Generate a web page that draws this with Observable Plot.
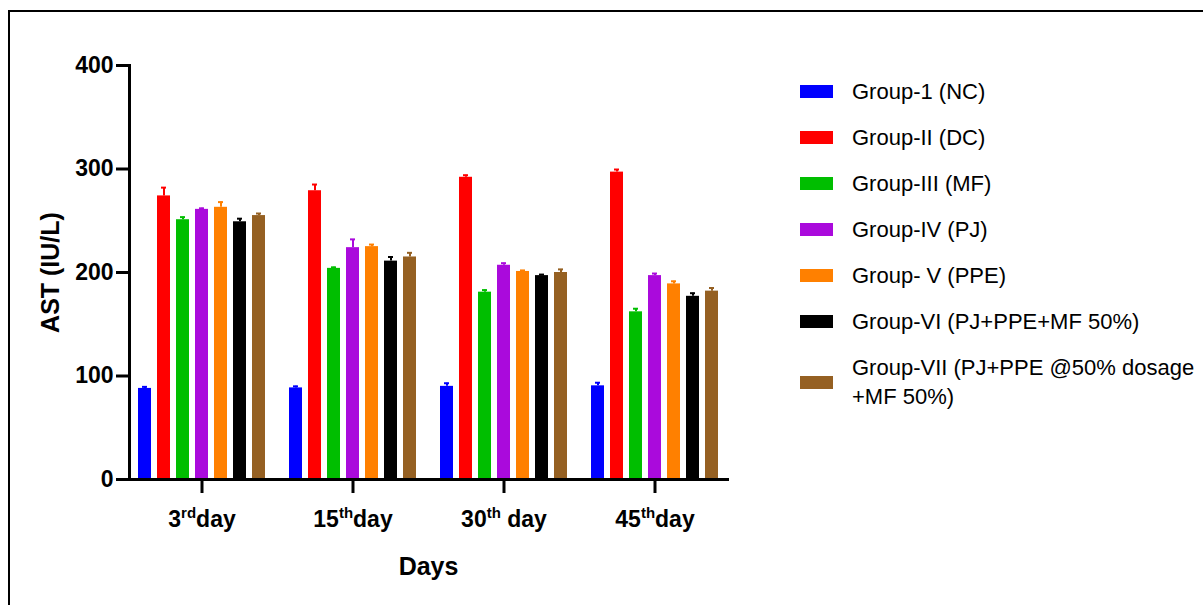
<!DOCTYPE html>
<html>
<head>
<meta charset="utf-8">
<script src="https://cdn.jsdelivr.net/npm/d3@7"></script>
<script src="https://cdn.jsdelivr.net/npm/@observablehq/plot@0.6"></script>
<style>
  html, body { margin: 0; padding: 0; background: #fff; }
  #wrap { position: relative; width: 1203px; height: 605px; overflow: hidden; font-family: Arial, "Liberation Sans", sans-serif; }
  #border { position: absolute; left: 8px; top: 10px; width: 1300px; height: 700px; border-top: 2px solid #000; border-left: 2px solid #000; box-sizing: border-box; }
  #chart svg text { font-weight: bold; }
  #chart g[aria-label="y-axis label"] text, #chart g[aria-label="fx-axis label"] text { font-size: 25px; }
  #chart g[aria-label="y-axis tick"], #chart g[aria-label="y-axis tick"] path,
  #chart g[aria-label="fx-axis tick"], #chart g[aria-label="fx-axis tick"] path { stroke-width: 3px !important; }
  #legend { position: absolute; left: 800px; top: 68px; }
  .row { display: flex; align-items: center; min-height: 46px; font-size: 22px; color: #000; line-height: 29px; }
  .sw { width: 33px; height: 13px; margin-right: 19px; flex: none; }
</style>
</head>
<body>
<div id="wrap">
  <div id="chart"></div>
  <div id="border"></div>
  <div id="legend"></div>
</div>
<script>
const days = ["3rd", "15th", "30th", "45th"];
const dayNums = ["3", "15", "30", "45"];
const daySups = ["rd", "th", "th", "th"];
const dayWords = ["day", "day", " day", "day"];
const groups = [
  "Group-1 (NC)",
  "Group-II (DC)",
  "Group-III (MF)",
  "Group-IV (PJ)",
  "Group- V (PPE)",
  "Group-VI (PJ+PPE+MF 50%)",
  "Group-VII (PJ+PPE @50% dosage +MF 50%)"
];
const legendLines = [
  ["Group-1 (NC)"],
  ["Group-II (DC)"],
  ["Group-III (MF)"],
  ["Group-IV (PJ)"],
  ["Group- V (PPE)"],
  ["Group-VI (PJ+PPE+MF 50%)"],
  ["Group-VII (PJ+PPE @50% dosage", "+MF 50%)"]
];
const colors = ["#0000FF", "#FF0000", "#00BE00", "#AA0ADC", "#FF8000", "#000000", "#956022"];
const yTicks = [0, 100, 200, 300, 400];

// AST values per group across days (3rd, 15th, 30th, 45th)
const group1 = [88, 88.5, 90, 90.5];
const group2 = [274, 279, 292, 297];
const group3 = [251, 204, 181, 162];
const group4 = [261, 224, 207, 197];
const group5 = [263, 225, 201, 189];
const group6 = [249, 211, 197, 177];
const group7 = [255, 215, 200, 182];
// error bar (upper) sizes
const err1 = [1.5, 1.5, 3, 3];
const err2 = [8, 6, 2, 2.5];
const err3 = [2.5, 1, 2, 3];
const err4 = [1, 8, 2, 2];
const err5 = [5, 2, 1, 2.5];
const err6 = [3, 4, 1, 3];
const err7 = [2, 4, 3, 3];

const series = [group1, group2, group3, group4, group5, group6, group7];
const errs = [err1, err2, err3, err4, err5, err6, err7];
const rows = groups.flatMap((g, gi) => days.map((d, di) => ({
  day: d, group: g, value: series[gi][di], err: errs[gi][di]
})));

const plot = Plot.plot({
  width: 1203,
  height: 605,
  marginLeft: 128,
  marginRight: 476,
  marginTop: 65,
  marginBottom: 126,
  style: { fontFamily: 'Arial, "Liberation Sans", sans-serif', background: "transparent", color: "#000" },
  fx: { domain: days, paddingInner: 0.041, paddingOuter: 0 },
  x: { domain: groups, paddingInner: 0.29, paddingOuter: 0.31, axis: null },
  y: { domain: [0, 400] },
  color: { domain: groups, range: colors },
  marks: [
    Plot.barY(rows, { fx: "day", x: "group", y: "value", fill: "group" }),
    Plot.ruleX(rows, { fx: "day", x: "group", y1: "value", y2: d => d.value + d.err, stroke: "group", strokeWidth: 2 }),
    Plot.tickY(rows, { fx: "day", x: "group", y: d => d.value + d.err, stroke: "group", strokeWidth: 2, insetLeft: 4, insetRight: 4 }),
    Plot.axisY({ ticks: yTicks, tickSize: 13, tickPadding: 3, strokeWidth: 3, fontSize: 23, fontWeight: "bold",
      label: "AST (IU/L)", labelArrow: "none", labelAnchor: "center", labelOffset: 88 }),
    Plot.axisFx({ anchor: "bottom", tickSize: 14, tickPadding: 17, strokeWidth: 3, fontSize: 23, fontWeight: "bold",
      tickFormat: d => d, label: "Days", labelArrow: "none", labelAnchor: "center", labelOffset: 95 }),
    Plot.frame({ anchor: "left", strokeWidth: 3, facet: "super" }),
    Plot.frame({ anchor: "bottom", strokeWidth: 3, facet: "super" })
  ]
});
document.getElementById("chart").appendChild(plot);

// superscript day labels
d3.select(plot).selectAll('g[aria-label="fx-axis tick label"] text').each(function() {
  const t = d3.select(this);
  const i = days.indexOf(t.text());
  if (i < 0) return;
  t.text(null);
  t.append("tspan").text(dayNums[i]);
  t.append("tspan").attr("dy", -9).style("font-size", "15px").text(daySups[i]);
  t.append("tspan").attr("dy", 9).style("white-space", "pre").text(dayWords[i]);
});

// legend
const legend = d3.select("#legend");
groups.forEach((g, i) => {
  const row = legend.append("div").attr("class", "row");
  if (i === groups.length - 1) row.style("margin-top", "9px");
  row.append("div").attr("class", "sw").style("background", colors[i]);
  const txt = row.append("div");
  legendLines[i].forEach(l => txt.append("div").text(l));
});
</script>
</body>
</html>
